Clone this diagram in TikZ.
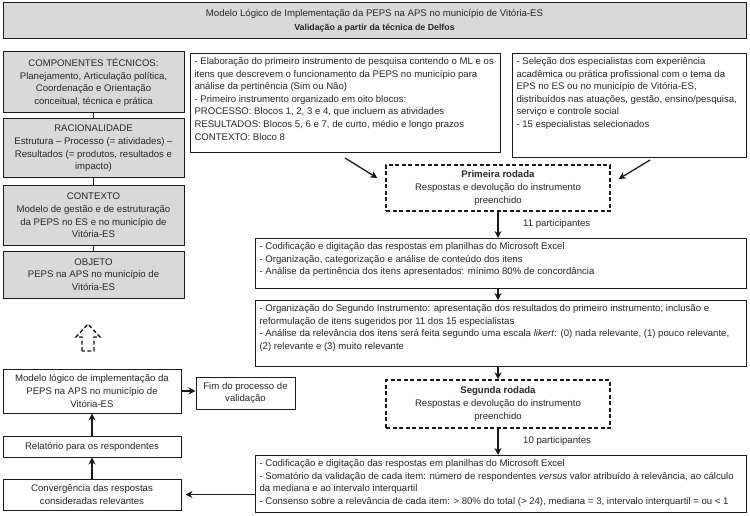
\documentclass[tikz,border=0pt]{standalone}
\usepackage{fontspec}
\setmainfont{Liberation Sans}
\usetikzlibrary{arrows.meta,calc}
\definecolor{boxgray}{HTML}{D9D9D9}
\definecolor{linegray}{HTML}{1A1A1A}
\definecolor{txtgray}{HTML}{262626}
\newcommand{\fs}{\fontsize{9.6}{12.6}\selectfont}
\newcommand{\ft}{\fontsize{9.6}{14.5}\selectfont}
\newcommand{\tb}[3]{\parbox[c][#2pt][t]{#1pt}{\fs\raggedright #3}}
\begin{document}
\begin{tikzpicture}[x=1pt,y=-1pt,
  gbox/.style={draw=linegray, line width=1pt, fill=boxgray, align=center, inner sep=2pt, font=\fs, text=txtgray},
  cbox/.style={draw=linegray, line width=1pt, fill=white, align=center, inner sep=2pt, font=\fs, text=txtgray},
  wbox/.style={draw=linegray, line width=1pt, fill=white, inner sep=4pt, anchor=north west, text=txtgray},
  dbox/.style={draw=linegray, line width=1.4pt, dash pattern=on 4pt off 2.5pt, align=center, font=\fs, fill=white, text=txtgray},
  arr/.style={-{Stealth[length=7pt,width=7pt]}, line width=1.3pt, draw=linegray},
  link/.style={line width=1.3pt, draw=linegray},
  lbl/.style={font=\fs, anchor=west, inner sep=0pt, text=txtgray}]
\useasboundingbox (0,0) rectangle (750,516);
\fill[white] (0,0) rectangle (750,516);

% title
\node[gbox, font=\ft, minimum width=743, minimum height=36] (title) at (374.5,21)
  {Modelo Lógico de Implementação da PEPS na APS no município de Vitória-ES\\
   {\fontsize{8.8}{10}\selectfont\bfseries Validação a partir da técnica de Delfos}};

% left column
\node[gbox, minimum width=181, minimum height=61] (b1) at (93.5,82.5)
  {COMPONENTES  TÉCNICOS:\\Planejamento, Articulação política,\\Coordenação e Orientação\\conceitual, técnica e prática};
\node[gbox, minimum width=181, minimum height=59] (b2) at (93.5,148.5)
  {RACIONALIDADE\\Estrutura – Processo (= atividades) –\\Resultados (= produtos, resultados e\\impacto)};
\node[gbox, minimum width=181, minimum height=59] (b3) at (93.5,215.5)
  {CONTEXTO\\Modelo de gestão e de estruturação\\da PEPS no ES e no município de\\Vitória-ES};
\node[gbox, minimum width=181, minimum height=47] (b4) at (93.5,274.5)
  {OBJETO\\PEPS na APS no município de\\Vitória-ES};
\draw[link] (b1.south) -- (b2.north);
\draw[link] (b2.south) -- (b3.north);
\draw[link] (b3.south) -- (b4.north);

% dashed hollow arrow
\draw[line width=1.4pt, draw=linegray, dash pattern=on 4pt off 2.5pt]
  (82,351) -- (82,337) -- (76,337) -- (88,324) -- (100,337) -- (94,337) -- (94,351) -- cycle;

\node[cbox, minimum width=178, minimum height=44] (modelo) at (92,391)
  {Modelo lógico de implementação da\\PEPS na APS no município de\\Vitória-ES};
\node[cbox, minimum width=99, minimum height=32] (fim) at (245.5,393)
  {Fim do processo de\\validação};
\node[cbox, minimum width=178, minimum height=21] (rel) at (92,446.5)
  {Relatório para os respondentes};
\node[cbox, minimum width=178, minimum height=31] (conv) at (92,494.5)
  {Convergência das respostas\\consideradas relevantes};
\draw[arr] (modelo.east) -- (fim.west |- modelo.east);
\draw[arr] (rel.north) -- (modelo.south);
\draw[arr] (conv.north) -- (rel.south);

% right part
\node[wbox] (elab) at (190,53) {\tb{302}{91}{%
- Elaboração do primeiro  instrumento de pesquisa contendo o ML e os\\
itens que descrevem o funcionamento da PEPS no município para\\
análise da pertinência (Sim ou Não)\\
- Primeiro  instrumento organizado em oito blocos:\\
PROCESSO:  Blocos 1, 2, 3 e 4, que incluem as atividades\\
RESULTADOS:  Blocos 5, 6 e 7, de curto, médio e longo prazos\\
CONTEXTO:  Bloco 8}};
\node[wbox] (sel) at (512,53) {\tb{226}{96}{%
- Seleção dos especialistas com experiência\\
acadêmica ou prática profissional com o tema da\\
EPS no ES ou no município de Vitória-ES,\\
distribuídos nas atuações, gestão, ensino/pesquisa,\\
serviço e controle social\\
- 15 especialistas selecionados}};

\node[dbox, minimum width=224, minimum height=46] (r1) at (498,188)
  {\textbf{Primeira rodada}\\Respostas e devolução do instrumento\\preenchido};
\draw[arr] ([shift={(155,5)}]elab.south west) -- ([shift={(-8,-10)}]r1.west);
\draw[arr] ([shift={(138,2)}]sel.south west) -- ([shift={(8,-9)}]r1.east);

\node[wbox] (c1) at (255,238) {\tb{483}{42}{%
- Codificação e digitação das respostas em planilhas do Microsoft  Excel\\
- Organização, categorização e análise de conteúdo dos itens\\
- Análise da pertinência dos itens apresentados: mínimo 80\% de concordância}};
\draw[arr] (r1.south) -- (r1.south |- c1.north);
\node[lbl] (p11) at (523,224) {11 participantes};

\node[wbox] (c2) at (255,300) {\tb{483}{58}{%
- Organização do Segundo Instrumento: apresentação dos resultados do primeiro  instrumento; inclusão e\\
reformulação de itens sugeridos por 11 dos 15 especialistas\\
- Análise da relevância dos itens será feita segundo uma escala \textit{likert}: (0) nada relevante, (1) pouco relevante,\\
(2) relevante e (3) muito relevante}};
\draw[arr] (r1.south |- c1.south) -- (r1.south |- c2.north);

\node[dbox, minimum width=224, minimum height=48] (r2) at (498,404)
  {\textbf{Segunda rodada}\\Respostas e devolução do instrumento\\preenchido};
\draw[arr] (r1.south |- c2.south) -- (r2.north);

\node[wbox] (c3) at (255,455) {\tb{483}{49}{%
- Codificação e digitação das respostas em planilhas do Microsoft  Excel\\
- Somatório da validação de cada item: número de respondentes \textit{versus} valor atribuído à relevância, ao cálculo\\
da mediana e ao intervalo  interquartil\\
- Consenso sobre a relevância de cada item: > 80\% do total (> 24), mediana = 3, intervalo interquartil = ou < 1}};
\draw[arr] (r2.south) -- (r2.south |- c3.north);
\node[lbl] (p10) at (523,441) {10 participantes};
\draw[arr] (c3.west |- conv.east) -- ([xshift=4pt]conv.east);
\end{tikzpicture}
\end{document}
